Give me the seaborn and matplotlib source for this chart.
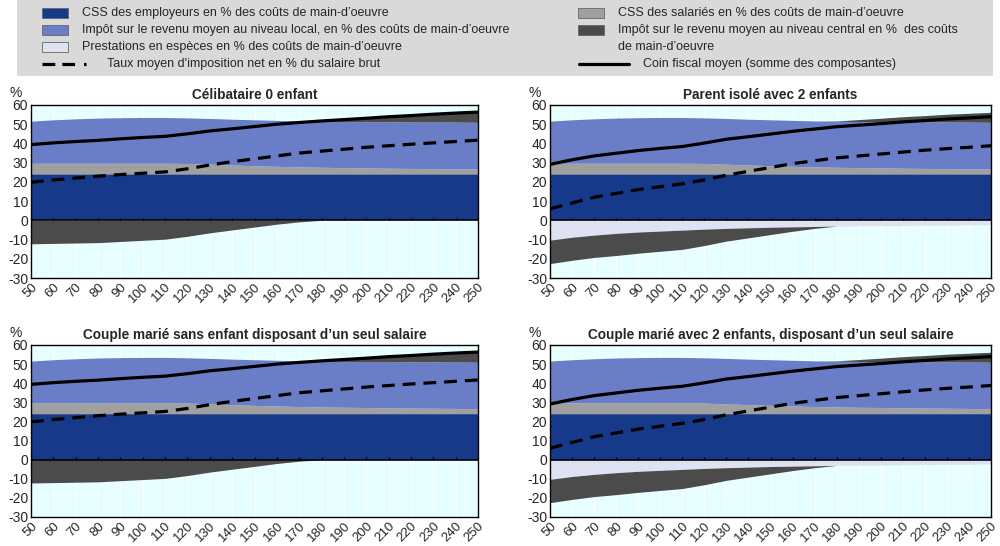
import numpy as np
import pandas as pd
import matplotlib.pyplot as plt
import seaborn as sns
from matplotlib.patches import Rectangle
from matplotlib.lines import Line2D

# ----------------------------------------------------------
# Données (en % du salaire moyen -> axe x)
# ----------------------------------------------------------
salaire = [50, 60, 70, 80, 90, 100, 110, 120, 130, 140, 150,
           160, 170, 180, 190, 200, 210, 220, 230, 240, 250]

css_employeurs = [24.0] * 21
css_salaries = [5.7, 5.7, 5.7, 5.7, 5.7, 5.7, 5.7, 5.6, 5.2, 4.8, 4.4,
                4.1, 3.8, 3.6, 3.4, 3.3, 3.1, 3.0, 2.9, 2.8, 2.7]
impot_local = [21.9, 22.6, 23.1, 23.5, 23.7, 23.8, 23.8, 23.7, 23.8, 23.8, 23.9,
               23.9, 23.9, 23.9, 24.0, 24.0, 24.2, 24.2, 24.3, 24.3, 24.3]

# Célibataire / couple sans enfant
impot_central_sans = [-12.2, -12.0, -11.8, -11.6, -11.0, -10.4, -9.8, -8.3, -6.5, -5.0, -3.5,
                      -2.0, -0.8, 0.2, 1.0, 1.8, 2.6, 3.3, 4.0, 4.7, 5.3]
prestations_sans = [0.0] * 21
taux_net_sans = [19.8, 21.0, 22.0, 23.0, 23.8, 24.5, 25.2, 26.8, 28.8, 30.5, 32.0,
                 33.5, 35.0, 36.0, 37.0, 38.0, 38.8, 39.6, 40.3, 41.0, 41.7]

# Parent isolé / couple avec 2 enfants
impot_central_avec = [-12.2, -12.0, -11.6, -11.5, -11.0, -10.5, -10.0, -8.5, -6.6, -5.2, -3.8,
                      -2.3, -1.0, 0.2, 1.0, 1.8, 2.6, 3.3, 4.0, 4.6, 5.2]
prestations_avec = [-10.3, -8.8, -7.7, -6.8, -6.1, -5.6, -5.1, -4.6, -4.2, -3.9, -3.6,
                    -3.4, -3.2, -3.0, -2.9, -2.8, -2.7, -2.6, -2.5, -2.4, -2.3]
taux_net_avec = [6.0, 9.0, 12.0, 14.0, 16.0, 17.5, 19.0, 21.0, 23.5, 25.5, 27.5,
                 29.5, 31.0, 32.5, 33.5, 34.5, 35.5, 36.5, 37.3, 38.0, 38.8]

titres = ["Célibataire 0 enfant", "Parent isolé avec 2 enfants",
          "Couple marié sans enfant disposant d\u2019un seul salaire",
          "Couple marié avec 2 enfants, disposant d\u2019un seul salaire"]

c_employeur = "#17398a"
c_salarie = "#a0a0a0"
c_local = "#6a7ec8"
c_central = "#4b4b4b"
c_prest = "#dfe2f2"
c_fond = "#e8ffff"


def tableau(central, prest, net):
    df = pd.DataFrame({"x": salaire, "employeur": css_employeurs, "salarie": css_salaries,
                       "local": impot_local, "central": central, "prest": prest, "net": net})
    df["total"] = df[["employeur", "salarie", "local", "central", "prest"]].sum(axis=1)
    return df


donnees = [tableau(impot_central_sans, prestations_sans, taux_net_sans),
           tableau(impot_central_avec, prestations_avec, taux_net_avec),
           tableau(impot_central_sans, prestations_sans, taux_net_sans),
           tableau(impot_central_avec, prestations_avec, taux_net_avec)]

sns.set_style("white")
plt.rcParams['font.family'] = ['Liberation Sans', 'DejaVu Sans']
plt.rcParams['axes.unicode_minus'] = False

W, H = 1000, 546
fig = plt.figure(figsize=(W / 100, H / 100), dpi=100)


def px(x0, y0, x1, y1):
    # rectangle en pixels (depuis le coin haut-gauche) -> coordonnées de figure
    return [x0 / W, 1 - y1 / H, (x1 - x0) / W, (y1 - y0) / H]


positions = [px(31, 105, 478, 278), px(550, 105, 991, 278),
             px(31, 345, 478, 517), px(550, 345, 991, 517)]

for pos, titre, df in zip(positions, titres, donnees):
    ax = fig.add_axes(pos)
    ax.set_facecolor(c_fond)
    x = df["x"]
    # empilement positif
    b1 = df["employeur"]
    b2 = b1 + df["salarie"]
    b3 = b2 + df["local"]
    b4 = b3 + df["central"].clip(lower=0)
    ax.fill_between(x, 0, b1, color=c_employeur, lw=0)
    ax.fill_between(x, b1, b2, color=c_salarie, lw=0)
    ax.fill_between(x, b2, b3, color=c_local, lw=0)
    ax.fill_between(x, b3, b4, color=c_central, lw=0)
    # empilement négatif
    n1 = df["prest"]
    n2 = n1 + df["central"].clip(upper=0)
    ax.fill_between(x, 0, n1, color=c_prest, lw=0)
    ax.fill_between(x, n1, n2, color=c_central, lw=0)

    for t in salaire:
        ax.axvline(t, color="white", lw=0.8, zorder=0.5)
    ax.axhline(0, color="black", lw=1.2)
    ax.vlines(salaire, 0, 1.3, color="black", lw=1)

    sns.lineplot(data=df, x="x", y="total", ax=ax, color="black", lw=2.3)
    sns.lineplot(data=df, x="x", y="net", ax=ax, color="black", lw=2.3, dashes=False,
                 linestyle=(0, (4, 2.5)))

    ax.set_xlim(50, 250)
    ax.set_ylim(-30, 60)
    ax.set_yticks(range(-30, 61, 10))
    ax.set_xticks(salaire)
    ax.set_xticklabels([str(s) for s in salaire], rotation=45, fontsize=9.5,
                       ha="right", rotation_mode="anchor")
    ax.tick_params(axis="y", labelsize=10, direction="in", length=3, pad=2)
    ax.tick_params(axis="x", length=0, pad=2)
    ax.set_xlabel("")
    ax.set_ylabel("")
    for s in ax.spines.values():
        s.set_color("black")
        s.set_linewidth(1)
    ax.set_title(titre, fontsize=9.8, fontweight="bold", pad=4)
    ax.text(-0.035, 1.03, "%", transform=ax.transAxes, fontsize=10, ha="center", va="bottom")

# ----------------------------------------------------------
# Légende (dessinée à la main dans le bandeau gris)
# ----------------------------------------------------------
fig.add_artist(Rectangle((17 / W, 1 - 76 / H), 976 / W, 76 / H, transform=fig.transFigure,
                         facecolor="#d9d9d9", edgecolor="none", zorder=0))

taille = 9


def carre(x0, y, couleur, texte):
    fig.add_artist(Rectangle((x0 / W, 1 - (y + 5) / H), 26 / W, 10 / H,
                             transform=fig.transFigure, facecolor=couleur,
                             edgecolor="#666666", lw=0.6))
    fig.text((x0 + 40) / W, 1 - y / H, texte, fontsize=taille, va="center", ha="left")


def trait(x0, longueur, y, style, texte, x_txt):
    fig.add_artist(Line2D([x0 / W, (x0 + longueur) / W], [1 - y / H, 1 - y / H],
                          transform=fig.transFigure, color="black", lw=2.3, linestyle=style))
    fig.text(x_txt / W, 1 - y / H, texte, fontsize=taille, va="center", ha="left")


carre(42, 13, c_employeur, "CSS des employeurs en % des coûts de main-d\u2019oeuvre")
carre(42, 30, c_local, "Impôt sur le revenu moyen au niveau local, en % des coûts de main-d\u2019oeuvre")
carre(42, 47, c_prest, "Prestations en espèces en % des coûts de main-d\u2019oeuvre")
trait(42, 44, 64, (0, (4, 2.2, 4, 2.8, 1.2, 8)), "Taux moyen d'imposition net en % du salaire brut", 107)

carre(578, 13, c_salarie, "CSS des salariés en % des coûts de main-d\u2019oeuvre")
carre(578, 30, c_central, "Impôt sur le revenu moyen au niveau central en %  des coûts")
fig.text(618 / W, 1 - 47 / H, "de main-d\u2019oeuvre", fontsize=taille, va="center", ha="left")
trait(579, 50, 64, "-", "Coin fiscal moyen (somme des composantes)", 643)

plt.savefig("out.png", dpi=100)
